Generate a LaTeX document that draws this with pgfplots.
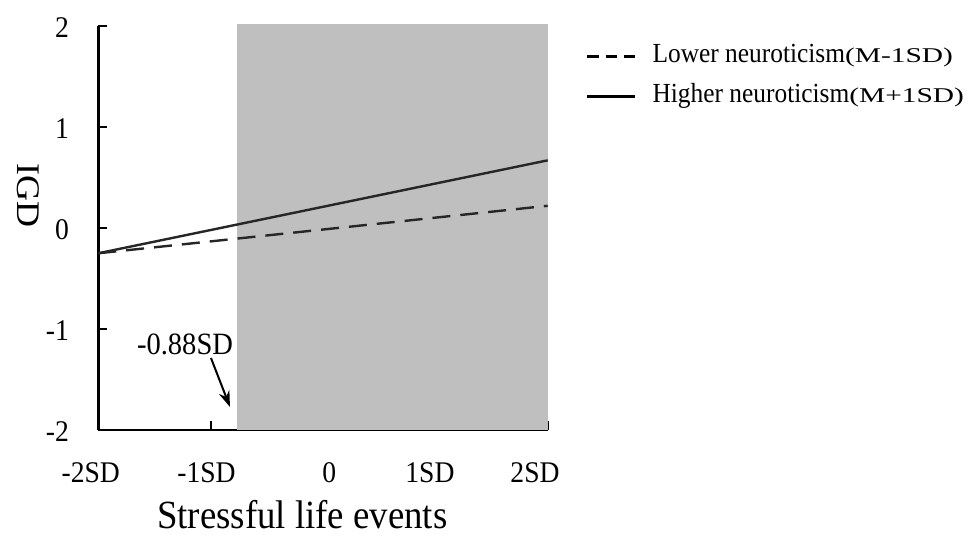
\documentclass[border=0pt]{standalone}
\usepackage{pgfplots}
\pgfplotsset{compat=1.18}
\usepackage{fontspec}
\setmainfont[FakeStretch=0.92]{Liberation Serif}
\newfontfamily\widefont[FakeStretch=1.4]{Liberation Serif}
\newfontfamily\tallfont[FakeStretch=1.09]{Liberation Serif}
\usetikzlibrary{arrows.meta}
\definecolor{shade}{RGB}{191,191,191}
\definecolor{lin}{RGB}{38,38,38}
\begin{document}
\begin{tikzpicture}
\path[use as bounding box] (-49.15pt,-53pt) rectangle (439.35pt,215pt);
\begin{axis}[
  at={(0pt,0pt)}, anchor=south west,
  scale only axis, width=224.7pt, height=202pt,
  xmin=-2, xmax=2, ymin=-2, ymax=2,
  axis x line*=bottom, axis y line*=left,
  axis line style={line width=1.4pt, black},
  clip=false,
  xtick={-2,-0.997,0.056,1.035,2},
  xticklabels={{-2SD\hspace*{7.5pt}},{-1SD\hspace*{4.5pt}},{0},{1SD\hspace*{9.3pt}},{2SD\hspace*{12.7pt}}},
  ytick={-2,-1,0,1,2},
  yticklabels={-2,-1,0,1,2},
  xtick align=inside, ytick align=inside,
  major tick length=4.5pt,
  tick style={line width=1.2pt, black},
  xticklabel style={font=\fontsize{15}{15}\selectfont, inner sep=0pt, anchor=base, yshift=-26pt},
  yticklabel style={font=\fontsize{15}{15}\selectfont, inner sep=0pt, anchor=east, xshift=-14.5pt, yshift=-1pt},
  xlabel={Stressful life events},
  xlabel style={font=\fontsize{20}{20}\selectfont, at={(axis description cs:0.454,-0.244)}, anchor=base, inner sep=0pt},
  ylabel={IGD},
  ylabel style={font=\tallfont\fontsize{16.5}{16.5}\selectfont, at={(axis description cs:-0.156,0.580)}, anchor=center, rotate=180, inner sep=0pt},
  legend style={draw=none, fill=none, at={(axis description cs:1.085,0.958)}, anchor=north west,
    inner sep=0pt, outer sep=0pt, font=\fontsize{13.8}{13.8}\selectfont, row sep=6pt, column sep=0pt,
    nodes={inner sep=0pt, text height=10pt, text depth=4pt}},
  legend cell align=left,
  legend image code/.code={\draw[#1, line width=1.5pt] (0pt,0pt) -- (24pt,0pt); \path (32pt,0pt);},
]
\addplot[draw=none, fill=shade, forget plot] coordinates {(-0.763,-2) (-0.763,2.02) (2,2.02) (2,-2)} -- cycle;
\addplot[lin, line width=1.2pt, dash pattern=on 9pt off 5pt, legend image post style={black, dash pattern=on 5.7pt off 3.45pt}] coordinates {(-2,-0.25) (2,0.22)};
\addlegendentry{Lower neuroticism{\widefont\fontsize{10.5}{10.5}\selectfont(M-1SD)}}
\addplot[lin, line width=1.2pt, legend image post style={black}] coordinates {(-2,-0.25) (2,0.67)};
\addlegendentry{Higher neuroticism{\widefont\fontsize{10.5}{10.5}\selectfont(M+1SD)}}
\draw[-{Stealth[length=8pt,width=5.5pt]}, line width=1pt] (axis cs:-0.997,-1.287) -- (axis cs:-0.828,-1.772);
\node[font=\fontsize{15.5}{15.5}\selectfont, anchor=base, inner sep=0pt] at (axis cs:-1.228,-1.257) {-0.88SD};
\end{axis}
\end{tikzpicture}
\end{document}
